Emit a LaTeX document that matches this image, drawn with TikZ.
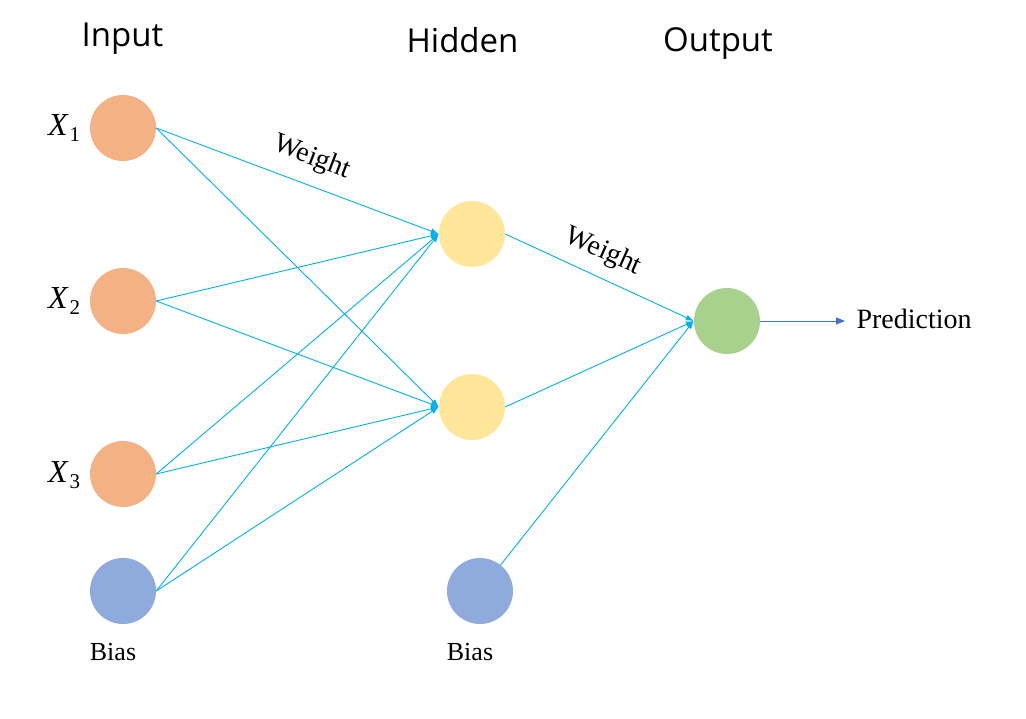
\documentclass[tikz,border=0pt]{standalone}
\usepackage{fontspec}
\setmainfont{Liberation Serif}
\newfontfamily\titlefont{Open Sans}
\usetikzlibrary{arrows.meta}
\definecolor{inorange}{HTML}{F4B183}
\definecolor{hidyellow}{HTML}{FFE699}
\definecolor{outgreen}{HTML}{A9D18E}
\definecolor{biasblue}{HTML}{8FAADC}
\definecolor{linecyan}{HTML}{00B0F0}
\definecolor{predblue}{HTML}{4472C4}
\newcommand{\xsub}[1]{{\itshape X}\kern2pt\raisebox{-6pt}{\fontsize{21}{24}\selectfont #1}}
\begin{document}
\begin{tikzpicture}[x=1pt,y=-1pt,
  neuron/.style={circle,minimum size=66pt,inner sep=0pt},
  conn/.style={draw=linecyan,line width=0.9pt,-{Latex[length=8pt,width=6pt]}},
  title/.style={anchor=base,font=\titlefont\fontsize{33}{40}\selectfont},
  xlab/.style={anchor=base west,inner sep=0pt,font=\fontsize{32}{36}\selectfont},
  serif/.style={font=\fontsize{26}{31}\selectfont},
  wlab/.style={inner sep=1pt,font=\fontsize{28}{32}\selectfont}]
\useasboundingbox (0,0) rectangle (1026,719);
% titles
\node[title] (tin) at (122.5,47) {Input};
\node[title] (thid) at (462.5,53) {Hidden};
\node[title] (tout) at (718,52) {Output};
% neurons
\node[neuron,fill=inorange] (x1) at (123,128) {};
\node[neuron,fill=inorange] (x2) at (123,301) {};
\node[neuron,fill=inorange] (x3) at (123,474) {};
\node[neuron,fill=biasblue] (b1) at (123,591) {};
\node[neuron,fill=hidyellow] (h1) at (472,234) {};
\node[neuron,fill=hidyellow] (h2) at (472,407) {};
\node[neuron,fill=biasblue] (b2) at (480,591) {};
\node[neuron,fill=outgreen] (o) at (727,321) {};
% input labels
\node[xlab] (lx1) at (48,136) {\xsub{1}};
\node[xlab] (lx2) at (48,309) {\xsub{2}};
\node[xlab] (lx3) at (48,482) {\xsub{3}};
\node[serif,anchor=base] (lb1) at (113,660) {Bias};
\node[serif,anchor=base] (lb2) at (470,660) {Bias};
% connections
\foreach \s in {x1,x2,x3,b1}{
  \draw[conn] (\s.east) -- (h1.west);
  \draw[conn] (\s.east) -- (h2.west);
}
\draw[conn] (h1.east) -- (o.west);
\draw[conn] (h2.east) -- (o.west);
\draw[conn] (b2) -- (o.west);
% weights
\node[wlab,rotate=-21] (w1) at (312,158) {Weight};
\node[wlab,rotate=-24] (w2) at (603,252) {Weight};
% prediction
\coordinate (pend) at (845,321);
\draw[draw=predblue,line width=0.9pt,-{Triangle[length=9pt,width=7pt]}] (o.east) -- (pend);
\node[serif,anchor=base west,font=\fontsize{28}{33}\selectfont] (pred) at (853,329) {Prediction};
\end{tikzpicture}
\end{document}
